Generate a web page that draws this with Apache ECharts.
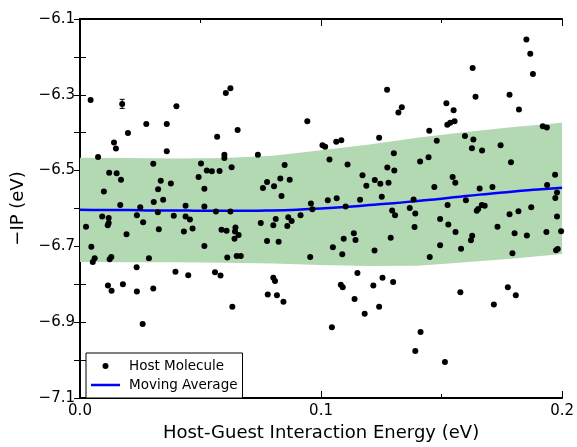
<!DOCTYPE html>
<html>
<head>
<meta charset="utf-8">
<script src="https://cdn.jsdelivr.net/npm/echarts@6/dist/echarts.min.js"></script>
<style>
html,body{margin:0;padding:0;background:#fff;}
#chart{width:577px;height:447px;}
</style>
</head>
<body>
<div id="chart"></div>
<script>
// host molecules: interaction energy (eV) / -IP (eV)
var hostEnergy = [0.0044,0.0175,0.0605,0.0624,0.0400,0.0275,0.0360,0.0199,0.0654,0.0141,
0.0149,0.0569,0.0075,0.0360,0.0599,0.0599,0.0304,0.0502,0.0629,0.0121,
0.0152,0.0170,0.0526,0.0547,0.0579,0.0492,0.0335,0.0377,0.0324,0.0516,
0.0099,0.0345,0.0306,0.0167,0.0250,0.0438,0.0516,0.0323,0.0092,0.0119,
0.0119,0.0115,0.0236,0.0262,0.0025,0.0193,0.0327,0.0389,0.0438,0.0456,
0.0431,0.0467,0.0516,0.0564,0.0624,0.0587,0.0608,0.0645,0.0643,0.0658,
0.0641,0.0047,0.0053,0.0061,0.0123,0.0130,0.0286,0.0611,0.0650,0.0667,
0.0235,0.0396,0.0449,0.0560,0.0583,0.0116,0.0131,0.0178,0.0236,0.0304,
0.0632,0.0260,0.1274,0.1335,0.1321,0.0943,0.1241,0.1006,0.1017,0.1063,
0.1084,0.0738,0.1302,0.1035,0.0849,0.1110,0.1275,0.1304,0.1172,0.0776,
0.0759,0.0805,0.0831,0.0870,0.1188,0.1223,0.1246,0.1280,0.0836,0.1252,
0.0958,0.1028,0.1065,0.1162,0.1102,0.0964,0.1295,0.1307,0.0750,0.0812,
0.0802,0.0864,0.0878,0.0860,0.0915,0.0776,0.0824,0.0955,0.1049,0.1094,
0.1088,0.1136,0.1143,0.1222,0.1289,0.0802,0.0809,0.0779,0.0817,0.0844,
0.1082,0.1090,0.1151,0.1139,0.1181,0.1045,0.1217,0.1255,0.1299,0.1241,
0.1852,0.1868,0.1879,0.1629,0.1641,0.1782,0.1821,0.1520,0.1550,0.1524,
0.1536,0.1554,0.1449,0.1480,0.1597,0.1632,0.1626,0.1668,0.1745,0.1788,
0.1920,0.1937,0.1411,0.1446,0.1546,0.1557,0.1470,0.1658,0.1711,0.1971,
0.1938,0.1979,0.1972,0.1384,0.1368,0.1525,0.1601,0.1667,0.1679,0.1652,
0.1872,0.1391,0.1388,0.1494,0.1528,0.1558,0.1627,0.1622,0.1494,0.1581,
0.1451,0.1646,0.1732,0.1782,0.1819,0.1803,0.1854,0.1935,0.1979,0.1996,
0.1794,0.1975,0.1982,0.1578,0.1775,0.1808,0.1717,0.1413,0.1391,0.1514];
var hostIP = [-6.314,-6.324,-6.295,-6.283,-6.330,-6.377,-6.377,-6.401,-6.393,-6.426,
-6.442,-6.411,-6.464,-6.449,-6.458,-6.467,-6.482,-6.481,-6.491,-6.506,
-6.507,-6.524,-6.500,-6.502,-6.501,-6.517,-6.527,-6.534,-6.549,-6.548,
-6.555,-6.577,-6.583,-6.591,-6.597,-6.593,-6.595,-6.610,-6.621,-6.625,
-6.638,-6.644,-6.618,-6.636,-6.648,-6.668,-6.655,-6.619,-6.621,-6.629,
-6.661,-6.653,-6.699,-6.608,-6.608,-6.656,-6.659,-6.650,-6.661,-6.670,
-6.680,-6.701,-6.741,-6.731,-6.734,-6.728,-6.731,-6.729,-6.725,-6.725,
-6.755,-6.767,-6.776,-6.768,-6.777,-6.803,-6.817,-6.800,-6.819,-6.811,
-6.859,-6.905,-6.287,-6.333,-6.347,-6.370,-6.413,-6.433,-6.437,-6.424,
-6.420,-6.458,-6.454,-6.471,-6.485,-6.484,-6.492,-6.500,-6.512,-6.530,
-6.546,-6.541,-6.521,-6.524,-6.540,-6.525,-6.535,-6.532,-6.567,-6.569,
-6.587,-6.578,-6.573,-6.577,-6.595,-6.602,-6.605,-6.618,-6.638,-6.628,
-6.644,-6.623,-6.633,-6.646,-6.618,-6.686,-6.688,-6.728,-6.702,-6.680,
-6.721,-6.665,-6.683,-6.711,-6.677,-6.783,-6.791,-6.827,-6.829,-6.846,
-6.801,-6.808,-6.770,-6.839,-6.878,-6.913,-6.803,-6.783,-6.794,-6.859,
-6.154,-6.192,-6.245,-6.229,-6.305,-6.300,-6.339,-6.322,-6.341,-6.379,
-6.374,-6.370,-6.395,-6.421,-6.409,-6.418,-6.441,-6.447,-6.433,-6.478,
-6.383,-6.386,-6.476,-6.465,-6.517,-6.532,-6.543,-6.547,-6.543,-6.511,
-6.538,-6.558,-6.572,-6.576,-6.599,-6.591,-6.578,-6.591,-6.593,-6.601,
-6.597,-6.613,-6.649,-6.628,-6.642,-6.662,-6.672,-6.684,-6.697,-6.706,
-6.728,-6.606,-6.648,-6.615,-6.607,-6.665,-6.671,-6.662,-6.621,-6.660,
-6.718,-6.710,-6.707,-6.821,-6.808,-6.829,-6.853,-6.926,-6.976,-7.005];

// moving average curve
var avgEnergy = [0,0.01,0.02,0.03,0.04,0.05,0.06,0.07,0.08,0.09,0.10,0.11,0.12,0.13,0.14,0.15,0.16,0.17,0.18,0.19,0.20];
var avgIP = [-6.603,-6.604,-6.604,-6.605,-6.605,-6.606,-6.606,-6.606,-6.605,-6.603,-6.600,-6.596,-6.591,-6.586,-6.580,-6.574,-6.567,-6.561,-6.555,-6.550,-6.545];

// shaded band (spread around the average)
var bandEnergy = [0,0.02,0.04,0.06,0.08,0.10,0.12,0.14,0.16,0.18,0.20];
var bandLow = [-6.741,-6.742,-6.742,-6.743,-6.745,-6.749,-6.752,-6.751,-6.742,-6.732,-6.720];
var bandHigh = [-6.466,-6.467,-6.468,-6.467,-6.461,-6.446,-6.431,-6.413,-6.398,-6.385,-6.374];

// single point with an error bar
var errEnergy = [0.0175];
var errIP = [-6.324];
var errSize = [0.012];

var yTickLabels = ['-6.1','-6.3','-6.5','-6.7','-6.9','-7.1'];

var FONT = 'DejaVu Sans';
var chart = echarts.init(document.getElementById('chart'));

var scatterData = [];
for (var i = 0; i < hostEnergy.length; i++) scatterData.push([hostEnergy[i], hostIP[i]]);
var avgData = [];
for (var i = 0; i < avgEnergy.length; i++) avgData.push([avgEnergy[i], avgIP[i]]);
var bandData = [];
for (var i = 0; i < bandEnergy.length; i++) bandData.push([bandEnergy[i], bandLow[i], bandHigh[i]]);
var errData = [];
for (var i = 0; i < errEnergy.length; i++) errData.push([errEnergy[i], errIP[i], errSize[i]]);

function yLabel(v) {
    var s = v.toFixed(1);
    if (yTickLabels.indexOf(s) < 0) return '';
    return s.replace('-', '\u2212');
}

// whole band as one polygon, drawn on the first item only
function renderBand(params, api) {
    if (params.dataIndex !== 0) return;
    var upper = [], lower = [];
    for (var i = 0; i < bandData.length; i++) {
        upper.push(api.coord([bandData[i][0], bandData[i][2]]));
        lower.unshift(api.coord([bandData[i][0], bandData[i][1]]));
    }
    return {
        type: 'polygon',
        shape: {points: upper.concat(lower)},
        style: {fill: '#b3d9b3', stroke: null}
    };
}

var tickStyle = {color: '#000', width: 1};
var lineAxis = {lineStyle: {color: '#000', width: 2}};

option = {
    animation: false,
    backgroundColor: '#fff',
    textStyle: {fontFamily: FONT},
    grid: {left: 80, top: 19, right: 14, bottom: 44},
    legend: {
        orient: 'vertical',
        left: 86,
        top: 353,
        padding: [6, 5, 6, 5],
        itemGap: 5,
        itemWidth: 29,
        itemHeight: 6,
        borderColor: '#000',
        borderWidth: 1,
        backgroundColor: '#fff',
        textStyle: {fontFamily: FONT, fontSize: 13.5, color: '#000', padding: [0, 0, 0, 4]},
        data: [
            {name: 'Host Molecule', icon: 'circle'},
            {name: 'Moving Average', icon: 'path://M0,0L29,0L29,2.5L0,2.5Z'}
        ]
    },
    xAxis: [{
        type: 'value', min: 0, max: 0.2, interval: 0.1,
        name: 'Host-Guest Interaction Energy (eV)',
        nameLocation: 'middle', nameGap: 26,
        nameTextStyle: {fontFamily: FONT, fontSize: 18, color: '#000'},
        axisLine: lineAxis,
        axisTick: {inside: true, length: 7, lineStyle: tickStyle},
        minorTick: {show: true, splitNumber: 2, length: 4, lineStyle: tickStyle},
        axisLabel: {fontFamily: FONT, fontSize: 15, color: '#000', margin: 6,
            formatter: function (v) { return v.toFixed(1); }},
        splitLine: {show: false}
    }, {
        type: 'value', min: 0, max: 0.2, interval: 0.1, position: 'top',
        axisLine: lineAxis,
        axisTick: {inside: true, length: 7, lineStyle: tickStyle},
        minorTick: {show: true, splitNumber: 2, length: 4, lineStyle: tickStyle},
        axisLabel: {show: false},
        splitLine: {show: false}
    }],
    yAxis: [{
        type: 'value', min: -7.1, max: -6.1, interval: 0.1,
        name: '\u2212IP (eV)',
        nameLocation: 'middle', nameGap: 46,
        nameTextStyle: {fontFamily: FONT, fontSize: 18, color: '#000'},
        axisLine: lineAxis,
        axisTick: {inside: true, length: 6, lineStyle: tickStyle},
        axisLabel: {fontFamily: FONT, fontSize: 15, color: '#000', margin: 5, formatter: yLabel},
        splitLine: {show: false}
    }, {
        type: 'value', min: -7.1, max: -6.1, interval: 0.1, position: 'right',
        axisLine: lineAxis,
        axisTick: {inside: true, length: 6, lineStyle: tickStyle},
        axisLabel: {show: false},
        splitLine: {show: false}
    }],
    series: [
        {
            name: 'band', type: 'custom', data: bandData,
            renderItem: renderBand, silent: true, clip: true, z: 1
        },
        {
            name: 'Moving Average', type: 'line', data: avgData,
            smooth: true, symbol: 'none', showSymbol: false,
            itemStyle: {color: '#0000ff'},
            lineStyle: {color: '#0000ff', width: 2.5}, z: 2
        },
        {
            name: 'Host Molecule', type: 'scatter', data: scatterData,
            symbol: 'circle', symbolSize: 6,
            itemStyle: {color: '#000', opacity: 1}, z: 3
        },
        {
            name: 'errorBar', type: 'custom', data: errData, z: 4,
            renderItem: function (params, api) {
                var x = api.value(0), y = api.value(1), e = api.value(2);
                var top = api.coord([x, y + e]);
                var bot = api.coord([x, y - e]);
                var s = {stroke: '#000', lineWidth: 1};
                return {
                    type: 'group',
                    children: [
                        {type: 'line', shape: {x1: top[0], y1: top[1], x2: bot[0], y2: bot[1]}, style: s},
                        {type: 'line', shape: {x1: top[0] - 2.5, y1: top[1], x2: top[0] + 2.5, y2: top[1]}, style: s},
                        {type: 'line', shape: {x1: bot[0] - 2.5, y1: bot[1], x2: bot[0] + 2.5, y2: bot[1]}, style: s}
                    ]
                };
            }
        }
    ]
};
chart.setOption(option);
</script>
</body>
</html>
